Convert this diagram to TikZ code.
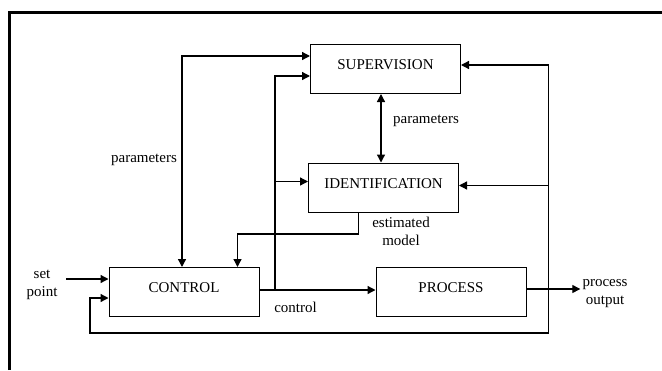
\documentclass[tikz,border=0pt]{standalone}
\usepackage{fontspec}
\setmainfont{Liberation Serif}
\usetikzlibrary{arrows.meta,
                positioning,
                calc}

\begin{document}
\begin{tikzpicture}[x=1pt,y=-1pt,
        font=\fontsize{15}{18}\selectfont,
        block/.style={draw,line width=1pt,minimum width=150pt,minimum height=49pt,
                      inner sep=0pt,text height=7pt,text depth=6pt},
        flow/.style={-{Triangle[length=8pt,width=8pt]},line width=1.3pt},
        both/.style={{Triangle[length=8pt,width=8pt]}-{Triangle[length=8pt,width=8pt]},line width=1.3pt},
        lbl/.style={align=center,inner sep=2pt}]
        \useasboundingbox (0,0) rectangle (662,370);

        % frame
        \draw[line width=3pt] (9,370) -- (9,12) -- (662,12);

        % blocks
        \node[block] (sup)   at (385.5,69)  {SUPERVISION};
        \node[block] (ident) at (383.5,187.5) {IDENTIFICATION};
        \node[block] (ctrl)  at (184,292) {CONTROL};
        \node[block] (proc)  at (451,292) {PROCESS};

        % labels
        \node[lbl] (setlbl) at (42,284.5) {set\\point};
        \node[lbl] (outlbl) at (605,294) {process\\output};
        \node[lbl] (parlft) at (144,160) {parameters};
        \node[lbl] (parmid) at (426,121) {parameters};
        \node[lbl] (estlbl) at (401,231) {estimated\\model};
        \node[lbl] (ctllbl) at (295.5,307) {control};

        \coordinate (cj) at (275,290);
        \coordinate (rt) at (548.5,333);
        \coordinate (lb) at (90,333);
        \coordinate (em) at (237.5,234);
        \coordinate (sp) at (66,279);

        % parameters between supervision and control
        \draw[both] ([yshift=13pt]sup.west) -| ([xshift=-2pt]ctrl.north);
        \draw[both] ([xshift=-4.5pt]sup.south) -- ([xshift=-4.5pt]sup.south |- ident.north);

        % control signal
        \draw[flow] (ctrl.east |- cj) -- (proc.west |- cj);
        \draw[flow] (cj) |- ([yshift=-7pt]sup.west);
        \draw[flow] ([yshift=6pt]ident.west -| cj) -- ([yshift=6pt]ident.west);

        % estimated model
        \draw[flow] ([xshift=-25pt]ident.south) |- (em) -- (em |- ctrl.north);

        % process output and feedback
        \draw[flow] ([yshift=3pt]proc.east) -- ([yshift=3pt]proc.east -| outlbl.west);
        \draw[flow] (rt) |- ([yshift=4pt]sup.east);
        \draw[flow] ([yshift=2pt]ident.east -| rt) -- ([yshift=2pt]ident.east);
        \draw[flow] (rt) -- (lb) |- ([yshift=-6pt]ctrl.west);

        % set point
        \draw[flow] (sp) -- (ctrl.west |- sp);
\end{tikzpicture}
\end{document}
